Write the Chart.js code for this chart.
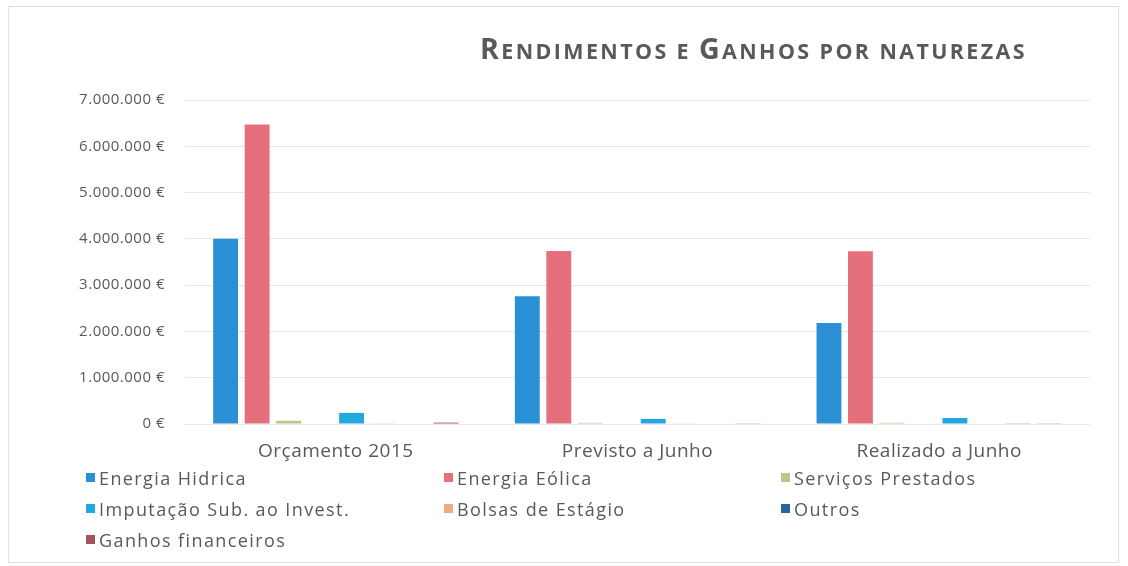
<!DOCTYPE html>
<html>
<head>
<meta charset="utf-8">
<script src="https://cdn.jsdelivr.net/npm/chart.js@4"></script>
<style>
  body { margin: 0; background: #fff; }
  #wrap { position: relative; width: 1128px; height: 566px; }
  #frame { position: absolute; left: 8px; top: 6px; width: 1111px; height: 557px; border: 1px solid #dedee6; box-sizing: border-box; }
  canvas { position: absolute; left: 0; top: 0; }
  #legend { position: absolute; left: 86px; top: 462px; display: grid;
            grid-template-columns: 358px 337px 300px; grid-auto-rows: 31px;
            font: 18px 'Open Sans', sans-serif; color: #595959; letter-spacing: 1.4px; }
  #legend .item { display: flex; align-items: center; white-space: nowrap; }
  #legend .box { width: 9px; height: 9px; margin-right: 4px; display: inline-block; }
</style>
</head>
<body>
<div id="wrap">
  <div id="frame"></div>
  <canvas id="chart" width="1128" height="566"></canvas>
  <div id="legend"></div>
</div>
<script>
// data
const titulo = 'Rendimentos e Ganhos por naturezas'
const categorias = ['Orçamento 2015', 'Previsto a Junho', 'Realizado a Junho']
const energiaHidrica = [4000000, 2760000, 2180000]
const energiaEolica = [6470000, 3740000, 3730000]
const servicosPrestados = [70000, 25000, 25000]
const semNome = [null, null, null]   // empty slot between Serviços and Imputação
const imputacaoSub = [240000, 110000, 130000]
const bolsasEstagio = [15000, 8000, 10000]
const outros = [0, 0, 15000]
const ganhosFinanceiros = [30000, 15000, 15000]
const yTicks = [0, 1000000, 2000000, 3000000, 4000000, 5000000, 6000000, 7000000]

const series = [
  { label: 'Energia Hidrica', data: energiaHidrica, color: '#2B8FD6' },
  { label: 'Energia Eólica', data: energiaEolica, color: '#E5707B' },
  { label: 'Serviços Prestados', data: servicosPrestados, color: '#B5C98A' },
  { label: '', data: semNome, color: '#ffffff' },
  { label: 'Imputação Sub. ao Invest.', data: imputacaoSub, color: '#22A7E0' },
  { label: 'Bolsas de Estágio', data: bolsasEstagio, color: '#F3A983' },
  { label: 'Outros', data: outros, color: '#25659A' },
  { label: 'Ganhos financeiros', data: ganhosFinanceiros, color: '#A0555E' }
]

function euro(v) {
  return String(v).replace(/\B(?=(\d{3})+(?!\d))/g, '.') + ' €'
}

// a bit of letter spacing like the scanned original
const spacing = {
  id: 'spacing',
  beforeDraw(chart) { chart.ctx.letterSpacing = '0.5px' }
}

// title in small caps, drawn by hand and fitted to its width in the picture
const smallCapsTitle = {
  id: 'smallCapsTitle',
  afterDraw(chart) {
    const ctx = chart.ctx
    const fam = "'Open Sans', sans-serif"
    const gap = 2.4
    const parts = [...titulo].map(ch => ({
      t: ch.toUpperCase(),
      big: ch !== ' ' && ch === ch.toUpperCase()
    }))
    const font = (p, k) => 'bold ' + (p.big ? 24 : 18) * k + 'px ' + fam
    ctx.save()
    ctx.letterSpacing = '0px'
    let w = 0
    parts.forEach(p => { ctx.font = font(p, 1); w += ctx.measureText(p.t).width })
    const k = (545 - gap * (parts.length - 1)) / w
    let x = 480
    ctx.fillStyle = '#595959'
    ctx.textBaseline = 'alphabetic'
    parts.forEach(p => {
      ctx.font = font(p, k)
      ctx.fillText(p.t, x, 59)
      x += ctx.measureText(p.t).width + gap
    })
    ctx.restore()
  }
}

const chart = new Chart(document.getElementById('chart'), {
  type: 'bar',
  data: {
    labels: categorias,
    datasets: series.map(s => ({
      label: s.label,
      data: s.data,
      backgroundColor: s.color,
      categoryPercentage: 0.835,
      barPercentage: 0.79
    }))
  },
  options: {
    responsive: false,
    animation: false,
    layout: { padding: { top: 100, right: 38, bottom: 102, left: 0 } },
    plugins: {
      legend: { display: false },
      title: { display: false },
      tooltip: { enabled: false }
    },
    scales: {
      y: {
        min: 0,
        max: 7000000,
        afterBuildTicks: s => { s.ticks = yTicks.map(v => ({ value: v })) },
        afterFit: s => { s.width = 185 },
        ticks: {
          callback: v => euro(v),
          color: '#595959',
          font: { family: "'Open Sans', sans-serif", size: 15 },
          padding: 20
        },
        grid: { color: '#e6e6e6', drawTicks: false },
        border: { display: false }
      },
      x: {
        afterFit: s => { s.height = 40 },
        ticks: {
          color: '#595959',
          font: { family: "'Open Sans', sans-serif", size: 19 },
          padding: 8
        },
        grid: { display: false },
        border: { display: false }
      }
    }
  },
  plugins: [spacing, smallCapsTitle]
})

// legend in three columns, built from the chart's datasets
const legend = document.getElementById('legend')
chart.data.datasets.filter(d => d.label).forEach(d => {
  const item = document.createElement('div')
  item.className = 'item'
  const box = document.createElement('span')
  box.className = 'box'
  box.style.background = d.backgroundColor
  item.appendChild(box)
  item.appendChild(document.createTextNode(d.label))
  legend.appendChild(item)
})
</script>
</body>
</html>
